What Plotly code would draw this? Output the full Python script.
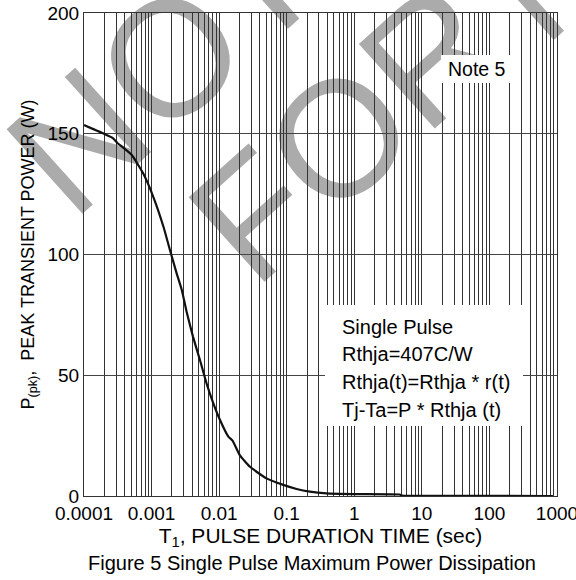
import plotly.graph_objects as go

# ---- data ----
pulse_time_s = [1e-4, 1.9e-4, 2.7e-4, 3.1e-4, 5.1e-4, 7.5e-4, 1.06e-3, 1.5e-3, 1.87e-3,
                2.35e-3, 2.8e-3, 3.3e-3, 4.1e-3, 5.2e-3, 6.5e-3, 8.2e-3, 0.0103, 0.0137,
                0.0158, 0.0203, 0.0286, 0.05, 0.089, 0.14, 0.22, 0.39, 1.0, 4.7, 5.0,
                20.0, 100.0, 870.0]
peak_power_w = [153.6, 150.2, 148.1, 146.3, 141.2, 133.6, 123.9, 111.5, 101.9,
                92.2, 85.3, 76.3, 66.0, 56.3, 46.7, 38.4, 31.5, 24.6,
                22.9, 16.8, 12.1, 7.3, 4.6, 2.9, 1.8, 1.1, 0.8, 0.6, 0.2,
                0.1, 0.05, 0.0]

decade_labels = ["0.0001", "0.001", "0.01", "0.1", "1", "10", "100", "1000"]
y_ticks = [0, 50, 100, 150, 200]
note_text = "Note 5"
info_lines = ["Single Pulse", "Rthja=407C/W", "Rthja(t)=Rthja * r(t)", "Tj-Ta=P * Rthja (t)"]
watermark_words = ["NOT", "FOR", "NEW"]

FONT = "Liberation Sans, Arial, sans-serif"

# log grid: every 1..9 x 10^k
tickvals, ticktext = [], []
for i, k in enumerate(range(-4, 3)):
    for m in range(1, 10):
        tickvals.append(m * 10.0 ** k)
        ticktext.append(decade_labels[i] if m == 1 else "")
tickvals.append(1000.0)
ticktext.append(decade_labels[-1])

fig = go.Figure()
fig.add_trace(go.Scatter(x=pulse_time_s, y=peak_power_w, mode="lines",
                         line=dict(color="#111111", width=2.2, shape="spline", smoothing=0.4),
                         hoverinfo="skip"))

# plot-area geometry (pixels) used to convert positions to paper coords
L, R, T, B = 84, 557, 13, 496
W, H = R - L, B - T
def px(x):
    return (x - L) / W
def py(y):
    return (B - y) / H

shapes = []
# watermark words (drawn beneath gridlines)
wm_centers = [(153, 52), (335, 120), (638, -134)]
for word, (cx, cy) in zip(watermark_words, wm_centers):
    shapes.append(dict(type="rect", xref="paper", yref="paper",
                       x0=px(cx) - 0.001, x1=px(cx) + 0.001,
                       y0=py(cy) - 0.001, y1=py(cy) + 0.001,
                       line=dict(width=0), fillcolor="rgba(0,0,0,0)", layer="below",
                       label=dict(text=word, textangle=-42, textposition="middle center",
                                  font=dict(size=165, color="#ababab", family=FONT))))
# white boxes
shapes.append(dict(type="rect", xref="paper", yref="paper",
                   x0=px(441), x1=px(512), y0=py(83), y1=py(55),
                   line=dict(width=0), fillcolor="white", layer="above"))
shapes.append(dict(type="rect", xref="paper", yref="paper",
                   x0=px(325), x1=px(523), y0=py(426), y1=py(305),
                   line=dict(width=0), fillcolor="white", layer="above"))

annotations = [dict(text=note_text, xref="paper", yref="paper", x=px(476.5), y=py(69),
                    xanchor="center", yanchor="middle", showarrow=False,
                    font=dict(size=19.5, family=FONT, color="black"))]
for line, yy in zip(info_lines, [327, 354, 382, 410]):
    annotations.append(dict(text=line, xref="paper", yref="paper", x=px(340), y=py(yy),
                            xanchor="left", yanchor="middle", showarrow=False,
                            font=dict(size=20, family=FONT, color="black")))
annotations.append(dict(text="Figure 5 Single Pulse Maximum Power Dissipation",
                        xref="paper", yref="paper", x=px(312), y=py(563),
                        xanchor="center", yanchor="middle", showarrow=False,
                        font=dict(size=20, family=FONT, color="black")))

fig.update_layout(
    width=576, height=580,
    margin=dict(l=L, r=576 - R, t=T, b=580 - B, autoexpand=False),
    paper_bgcolor="white", plot_bgcolor="rgba(0,0,0,0)",
    showlegend=False,
    font=dict(family=FONT, size=19, color="black"),
    shapes=shapes, annotations=annotations,
    xaxis=dict(type="log", range=[-4, 3], tickmode="array", tickvals=tickvals, ticktext=ticktext,
               showgrid=True, gridcolor="#333333", gridwidth=1, zeroline=False,
               showline=True, linecolor="#333333", linewidth=1, mirror=True, ticks="",
               tickfont=dict(size=19, family=FONT), automargin=False,
               ticklabeloverflow="allow",
               title=dict(text="T<sub>1</sub>, PULSE DURATION TIME (sec)", standoff=4,
                          font=dict(size=21, family=FONT))),
    yaxis=dict(range=[0, 200], tickmode="array", tickvals=y_ticks,
               showgrid=True, gridcolor="#444444", gridwidth=1, zeroline=False,
               showline=True, linecolor="#333333", linewidth=1, mirror=True, ticks="",
               tickfont=dict(size=19, family=FONT), automargin=False,
               ticklabeloverflow="allow",
               title=dict(text="P<sub>(pk)</sub>,  PEAK TRANSIENT POWER (W)", standoff=8,
                          font=dict(size=18, family=FONT))),
)

fig.write_html("out.html")
